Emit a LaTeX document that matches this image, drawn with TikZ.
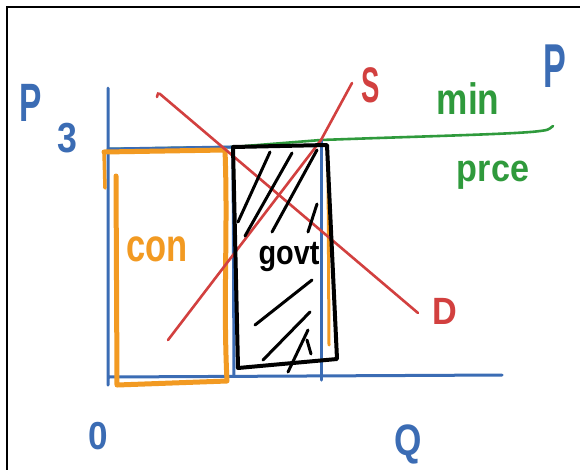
\documentclass[tikz,border=0pt]{standalone}
\usepackage{fontspec}
\setmainfont{Liberation Sans}
\usepackage{graphicx}
\definecolor{pblue}{HTML}{3B6CB4}
\definecolor{porange}{HTML}{F29A22}
\definecolor{pred}{HTML}{D2403F}
\definecolor{pgreen}{HTML}{2F9A3C}
\tikzset{
  axisline/.style={pblue, line width=3pt, line cap=round, line join=round},
  conline/.style={porange, line width=5pt, line cap=round, line join=round},
  curveline/.style={pred, line width=2.6pt, line cap=round},
  floorline/.style={pgreen, line width=2.6pt, line cap=round},
  govbox/.style={black, line width=4pt, line cap=round, line join=round},
  hatchline/.style={black, line width=3pt, line cap=round},
  lbl/.style={inner sep=0pt, anchor=center, font=\bfseries},
}
\begin{document}
\begin{tikzpicture}[x=1pt,y=-1pt]
\useasboundingbox (0,0) rectangle (580,469);
\clip (0,0) rectangle (580,469);
\fill[white] (0,0) rectangle (580,469);
% frame
\draw[black, line width=2.5pt] (7,470) -- (7,7) -- (581,7);

% key points
\coordinate (ytop) at (108,88);
\coordinate (orig) at (108,377);
\coordinate (xend) at (502,375);
\coordinate (pa) at (108,149);
\coordinate (pb) at (233,147);
\coordinate (pc) at (321,140);
\coordinate (pd) at (553,126);

% green min price line
\draw[floorline] (pa) -- (pb) -- (pc) .. controls (430,136) and (520,134) .. (540,131) .. controls (548,130) .. (pd);

% blue axes and guides
\draw[axisline] (ytop) -- (108,385) -- (orig) -- (xend);
\draw[axisline] (pa) -- (pb);
\draw[axisline] (pb) -- (234,376);
\draw[axisline] (pc) -- (321,380);

% orange consumer rectangle
\coordinate (oa) at (104,152);
\coordinate (ob) at (225,150);
\coordinate (oc) at (227,381);
\coordinate (od) at (117,385);
\draw[conline] (oa) -- (ob) .. controls (228,230) and (223,300) .. (oc) -- (od) -- (116,176);
\draw[porange, line width=3.5pt, line cap=round] (oa) -- (105,188);
\draw[porange, line width=3pt, line cap=round] (328,166) -- (329,345);

% red demand and supply
\coordinate (dtop) at (160,94);
\coordinate (dend) at (418,313);
\coordinate (sbot) at (168,340);
\coordinate (stop) at (352,83);
\draw[curveline] (157,97) .. controls (158,93) .. (dtop) -- (dend);
\draw[curveline] (sbot) -- (pc) -- (stop);

% black government box
\coordinate (ga) at (233,147);
\coordinate (gb) at (327,145);
\coordinate (gc) at (337,359);
\coordinate (gd) at (238,368);
\draw[govbox] (ga) -- (gb) -- (gc) -- (gd) -- cycle;
% hatching
\draw[hatchline] (270,152) -- (238,222);
\draw[hatchline] (292,153) -- (245,236);
\draw[hatchline] (317,150) -- (272,232);
\draw[hatchline] (317,204) -- (308,232);
\draw[hatchline] (312,280) -- (255,325);
\draw[hatchline] (310,312) -- (263,360);
\draw[hatchline] (308,330) -- (288,372);
\draw[hatchline] (307,340) -- (311,354);

% labels
\node[lbl, text=pblue] (plab) at (31,103) {\scalebox{0.62}[1]{\fontsize{54}{54}\selectfont P}};
\node[lbl, text=pblue] (three) at (67,138) {\scalebox{0.85}[1]{\fontsize{42}{42}\selectfont 3}};
\node[lbl, text=pblue] (plab2) at (555,66) {\scalebox{0.55}[1]{\fontsize{62}{62}\selectfont P}};
\node[lbl, text=pblue] (zero) at (98,436) {\scalebox{0.9}[1]{\fontsize{39}{39}\selectfont 0}};
\node[inner sep=0pt, anchor=north, text=pblue, font=\bfseries] (qlab) at (408,425) {\scalebox{0.8}[1]{\fontsize{44}{44}\selectfont Q}};
\node[lbl, text=pred] (slab) at (371,85) {\scalebox{0.55}[1]{\fontsize{50}{50}\selectfont S}};
\node[lbl, text=pred] (dlab) at (445,311) {\scalebox{0.9}[1]{\fontsize{38}{38}\selectfont D}};
\node[lbl, text=pgreen] (minlab) at (468,99) {\scalebox{0.8}[1]{\fontsize{44}{44}\selectfont min}};
\node[lbl, text=pgreen] (prlab) at (493,175) {\scalebox{0.9}[1]{\fontsize{38}{38}\selectfont prce}};
\node[lbl, text=porange] (conlab) at (157,249) {\scalebox{0.75}[1]{\fontsize{46}{46}\selectfont con}};
\node[lbl, text=black] (govlab) at (289,257) {\scalebox{0.85}[1]{\fontsize{34}{34}\selectfont govt}};
\end{tikzpicture}
\end{document}
